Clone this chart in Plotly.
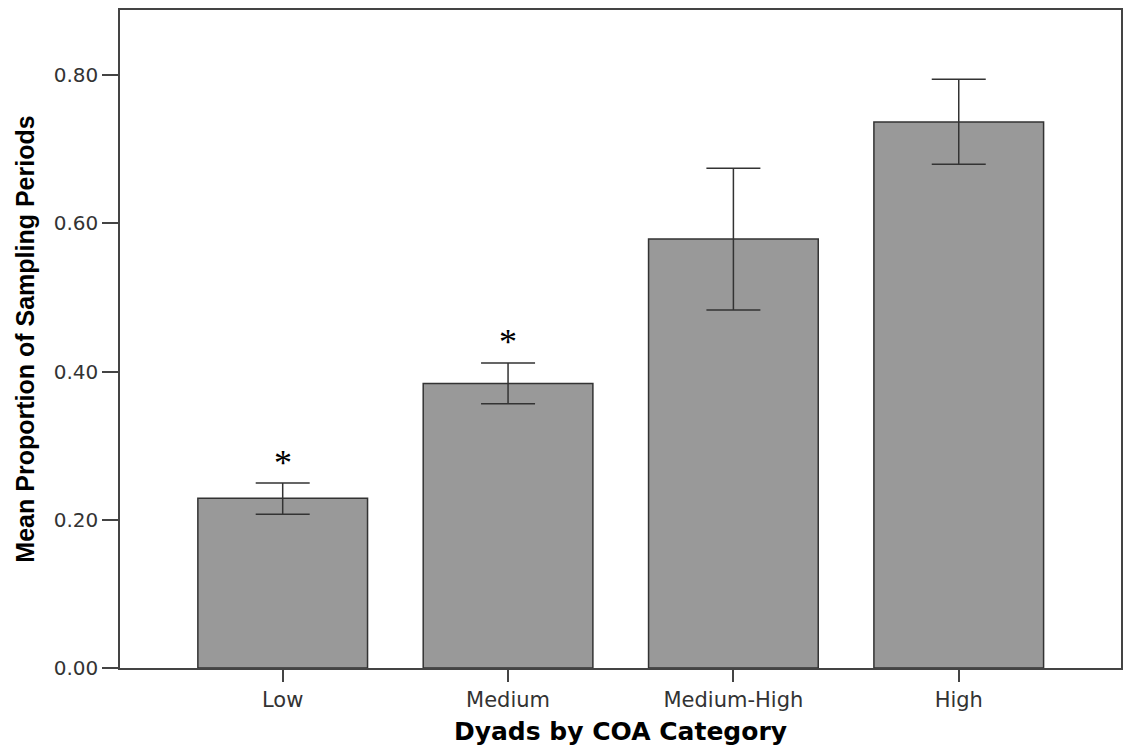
import plotly.graph_objects as go

categories = ["Low", "Medium", "Medium-High", "High"]
means = [0.229, 0.384, 0.579, 0.737]
err_upper = [0.2495, 0.4115, 0.6745, 0.7946]
err_lower = [0.2074, 0.3566, 0.483, 0.680]
sig_markers = ["*", "*", "", ""]
sig_y = [0.277, 0.440, None, None]

plus = [u - m for u, m in zip(err_upper, means)]
minus = [m - l for m, l in zip(means, err_lower)]

fig = go.Figure()
fig.add_trace(go.Bar(
    x=categories, y=means, width=0.753,
    marker=dict(color="#999999", line=dict(color="#333333", width=1.5)),
    error_y=dict(type="data", symmetric=False, array=plus, arrayminus=minus,
                 color="#333333", thickness=1.5, width=27),
    showlegend=False, hoverinfo="skip",
))

for c, s, yv in zip(categories, sig_markers, sig_y):
    if s:
        fig.add_annotation(x=c, y=yv, text=s, showarrow=False,
                           font=dict(family="Liberation Serif", size=36, color="#000000"),
                           yanchor="middle")

fig.update_layout(
    width=1126, height=746,
    margin=dict(l=120, r=3, t=10, b=78),
    paper_bgcolor="white", plot_bgcolor="white",
    xaxis=dict(
        type="category", range=[-0.722, 3.72],
        showline=True, linecolor="#444444", linewidth=1.5, mirror=True,
        ticks="outside", ticklen=12, tickwidth=1.5, tickcolor="#444444",
        showgrid=False,
        tickfont=dict(family="DejaVu Sans", size=21, color="#333333"),
        title=dict(text="Dyads by COA Category", standoff=12,
                   font=dict(family="DejaVu Sans", size=25, color="#000000", weight="bold")),
    ),
    yaxis=dict(
        range=[0, 0.888],
        tickvals=[0, 0.2, 0.4, 0.6, 0.8], tickformat=".2f",
        showline=True, linecolor="#444444", linewidth=1.5, mirror=True,
        ticks="outside", ticklen=16, tickwidth=1.5, tickcolor="#444444",
        showgrid=False, zeroline=False,
        tickfont=dict(family="DejaVu Sans", size=20, color="#333333"),
        title=dict(text="Mean Proportion of Sampling Periods", standoff=12,
                   font=dict(family="Liberation Sans", size=25, color="#000000", weight="bold")),
    ),
)

fig.write_html("out.html", config={"displayModeBar": False},
               post_script="document.body.style.margin='0';document.body.style.overflow='hidden';")
